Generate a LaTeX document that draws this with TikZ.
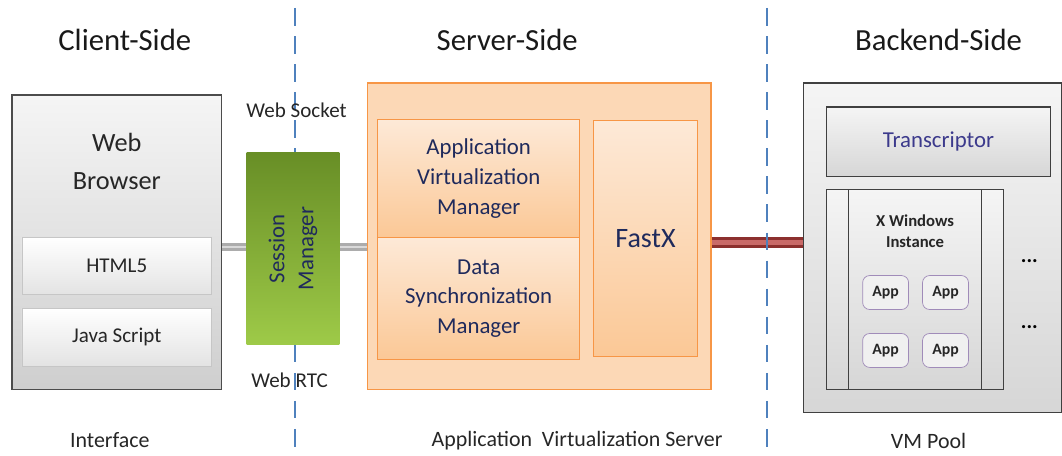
\documentclass[tikz,border=0pt]{standalone}
\usepackage{fontspec}
\setmainfont{Carlito}
\usepackage{xcolor}
\usetikzlibrary{positioning}
\definecolor{cutblue}{RGB}{79, 129, 189}
\definecolor{navytext}{RGB}{31, 42, 92}
\definecolor{violettext}{RGB}{60, 58, 140}
\definecolor{orangeedge}{RGB}{247, 150, 70}
\definecolor{orangefill}{RGB}{251, 200, 150}
\definecolor{orangelight}{RGB}{253, 233, 215}
\definecolor{serverfill}{RGB}{252, 216, 182}
\definecolor{greendark}{RGB}{104, 142, 38}
\definecolor{greenlight}{RGB}{158, 202, 72}
\definecolor{appedge}{RGB}{128, 100, 162}
\definecolor{redbar}{RGB}{192, 80, 77}
\definecolor{reddark}{RGB}{140, 48, 46}

\begin{document}
\begin{tikzpicture}[
    x=0.02cm, y=-0.02cm,
    heading/.style={font=\fontsize{17.5}{20}\selectfont, text=black!90},
    caption/.style={font=\fontsize{12.5}{14}\selectfont, text=black!85},
    protocol/.style={font=\fontsize{12}{14}\selectfont, text=black!85},
    tier/.style={rectangle, draw=black!70, line width=0.8pt,
                 top color=gray!8, bottom color=gray!38},
    module/.style={rectangle, draw=gray!45, top color=white, bottom color=gray!22,
                   minimum width=3.8cm, font=\fontsize{12}{14}\selectfont, text=black!85},
    session/.style={rectangle, top color=greendark, bottom color=greenlight,
                    minimum width=1.86cm, minimum height=3.84cm, align=center,
                    text=navytext, font=\fontsize{13}{16.5}\selectfont},
    server/.style={rectangle, draw=orangeedge, line width=0.8pt, fill=serverfill},
    orangebox/.style={rectangle, draw=orangeedge, line width=0.6pt,
                      top color=orangelight, bottom color=orangefill, align=center,
                      text=navytext, font=\fontsize{13}{17}\selectfont},
    grayblock/.style={rectangle, draw=black!75, line width=0.8pt,
                      top color=gray!8, bottom color=gray!32},
    appbox/.style={rectangle, rounded corners=4pt, draw=appedge!75, fill=gray!12,
                   minimum width=0.92cm, minimum height=0.68cm,
                   font=\fontsize{9}{11}\selectfont\bfseries, text=black!85},
    cutline/.style={cutblue, line width=1.1pt, dash pattern=on 10pt off 6pt}
]

% Tier headings
\node[heading] (clienthead) at (125,40) {Client-Side};
\node[heading] (serverhead) at (508,40) {Server-Side};
\node[heading] (backendhead) at (940,40) {Backend-Side};

% Client side
\node[tier, minimum width=4.2cm, minimum height=5.9cm] (browser) at (117,242.5) {};
\node[align=center, text=black!85, font=\fontsize{15}{21.5}\selectfont] (browsertitle) at (117,162) {Web\\Browser};
\node[module, minimum height=1.14cm] (html) at (117,266.5) {HTML5};
\node[module, minimum height=1.16cm, below=0.26cm of html] (js) {Java Script};

% Server side
\node[server, minimum width=6.88cm, minimum height=6.14cm] (server) at (540,236.5) {};
\node[orangebox, minimum width=4.04cm, minimum height=2.36cm] (avm) at (479.5,179) {Application\\Virtualization\\Manager};
\node[orangebox, minimum width=4.04cm, minimum height=2.44cm] (dsm) at (479.5,299) {Data\\Synchronization\\Manager};
\node[orangebox, minimum width=2.1cm, minimum height=4.72cm, font=\fontsize{16}{18}\selectfont] (fastx) at (646.5,239) {FastX};

% Backend side
\node[grayblock, minimum width=5.16cm, minimum height=6.6cm] (vmpool) at (934,248) {};
\node[grayblock, minimum width=4.48cm, minimum height=1.4cm, text=violettext,
      font=\fontsize{13}{15}\selectfont] (transcriptor) at (940,142) {Transcriptor};
\node[grayblock, minimum width=3.54cm, minimum height=4cm] (xwin) at (916.5,290) {};
\draw[black!75, line width=0.8pt] (850,190) -- (850,390);
\draw[black!75, line width=0.8pt] (983,190) -- (983,390);
\node[align=center, text=black!85, font=\fontsize{9.5}{12}\selectfont\bfseries] (xwintitle) at (916.5,232) {X Windows\\Instance};
\node[appbox] (app1) at (887,293) {App};
\node[appbox] (app2) at (947,293) {App};
\node[appbox] (app3) at (887,351) {App};
\node[appbox] (app4) at (947,351) {App};
\node[font=\fontsize{12}{14}\selectfont\bfseries] (more1) at (1031,262) {...};
\node[font=\fontsize{12}{14}\selectfont\bfseries] (more2) at (1031,328) {...};

% Connectors
\draw[line width=5pt, gray!65] ([yshift=-0.1cm]browser.east) -- ([yshift=-0.1cm]browser.east -| server.west);
\draw[line width=1.5pt, gray!30] ([yshift=-0.1cm]browser.east) -- ([yshift=-0.1cm]browser.east -| server.west);
\draw[line width=6.5pt, reddark] ([yshift=-0.13cm]server.east) -- ([yshift=-0.13cm]server.east -| vmpool.west);
\draw[line width=2.5pt, redbar!85] ([yshift=-0.13cm]server.east) -- ([yshift=-0.13cm]server.east -| vmpool.west);

% Tier boundaries
\coordinate (cutAtop) at (295,8);
\coordinate (cutAbottom) at (295,452);
\coordinate (cutBtop) at (768,8);
\coordinate (cutBbottom) at (768,452);
\draw[cutline] (cutAtop) -- (cutAbottom);
\draw[cutline] (cutBtop) -- (cutBbottom);

% Session manager and protocols
\node[session] (sessmgr) at (293.5,249) {\rotatebox{90}{\begin{tabular}{c}Session\\Manager\end{tabular}}};
\node[protocol] (websocket) at (297,110) {Web Socket};
\node[protocol] (webrtc) at (290,381) {Web RTC};

% Footers
\node[caption] (interface) at (110,441) {Interface};
\node[caption] (avserver) at (578,441) {Application\ \ Virtualization Server};
\node[caption] (vmpoolcap) at (930,442) {VM Pool};

\useasboundingbox (0,0) rectangle (1062,456);
\end{tikzpicture}
\end{document}
